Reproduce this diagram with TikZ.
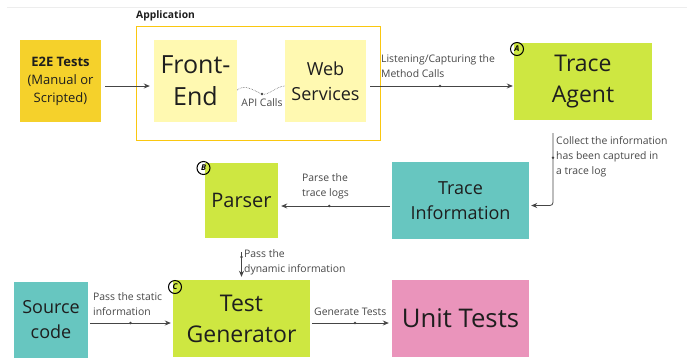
\documentclass[tikz,border=0pt]{standalone}
\usepackage{fontspec}
\setmainfont{Open Sans}
\usetikzlibrary{arrows.meta,calc}
\definecolor{cGold}{HTML}{F5D12B}
\definecolor{cPale}{HTML}{FFF9B1}
\definecolor{cLime}{HTML}{CEE741}
\definecolor{cTeal}{HTML}{67C6C0}
\definecolor{cPink}{HTML}{EA94BB}
\definecolor{cFrame}{HTML}{FAC710}
\definecolor{cLine}{HTML}{454545}
\definecolor{cLabel}{HTML}{484848}
\definecolor{cText}{HTML}{1E1E1E}
\begin{document}
\begin{tikzpicture}[x=1pt,y=-1pt,
  box/.style={draw=none, inner sep=0pt, align=center, text=cText},
  conn/.style={draw=cLine, line width=0.8pt, -{Stealth[length=6pt,width=5pt]}},
  dotnode/.style={circle, fill=cLine, inner sep=0pt, minimum size=2.8pt},
  lbl/.style={inner sep=0pt, align=left, text=cLabel, font=\fontsize{10.4}{15}\selectfont},
  circ/.style={circle, draw=black, line width=1pt, inner sep=0pt, minimum size=13pt, fill=none, text=black, font=\bfseries\itshape\fontsize{8}{8}\selectfont},
  big/.style={font=\fontsize{25}{32}\selectfont},
  mid/.style={font=\fontsize{18}{25}\selectfont},
  large/.style={font=\fontsize{23}{31}\selectfont}]
\useasboundingbox (0,0) rectangle (687,357);
\clip (0,0) rectangle (687,357);
\fill[white] (0,0) rectangle (687,357);
\draw[black!7, line width=0.6pt] (7,7) -- (687,7);

% application frame
\node[draw=cFrame, line width=1pt, minimum width=244pt, minimum height=114pt, inner sep=0pt] (app) at (258,83) {};
\node[anchor=west, inner sep=0pt, text=cText, font=\bfseries\fontsize{10.3}{12}\selectfont] (applbl) at (136,16) {Application};

% nodes
\node[box, fill=cGold, minimum width=81pt, minimum height=82pt, font=\fontsize{13}{18}\selectfont] (e2e) at (60.5,81) {\textbf{E2E Tests}\\(Manual or\\Scripted)};
\node[box, fill=cPale, minimum width=83pt, minimum height=82pt, big] (fe) at (195.5,81) {Front-\\End};
\node[box, fill=cPale, minimum width=81pt, minimum height=82pt, mid] (ws) at (325.5,81) {Web\\Services};
\node[box, fill=cLime, minimum width=138pt, minimum height=77pt, large] (ta) at (583,81.5) {Trace\\Agent};
\node[box, fill=cTeal, minimum width=137pt, minimum height=77pt, mid] (ti) at (460.5,200.5) {Trace\\Information};
\node[box, fill=cLime, minimum width=73pt, minimum height=75pt, font=\fontsize{20}{25}\selectfont] (parser) at (241.5,200.5) {Parser};
\node[box, fill=cTeal, minimum width=74pt, minimum height=76pt, mid] (src) at (51,320) {Source\\code};
\node[box, fill=cLime, minimum width=137pt, minimum height=77pt, large] (tg) at (241.5,318.5) {Test\\Generator};
\node[box, fill=cPink, minimum width=137pt, minimum height=77pt, font=\fontsize{25.7}{32}\selectfont] (ut) at (460.5,318.5) {Unit Tests};

% markers
\node[circ] (ca) at (517,49) {A};
\node[circ] (cb) at (203.5,168) {B};
\node[circ] (cc) at (175,287) {C};

% connectors
\draw[conn, shorten <=4pt, shorten >=4pt] ([yshift=-5pt]e2e.east) -- ([yshift=-5pt]fe.west);
\draw[conn, shorten <=4pt, shorten >=1pt] ([yshift=-5pt]ws.east) -- node[dotnode, pos=0.5] {} ([yshift=-4.5pt]ta.west);
\draw[conn, rounded corners=3pt, shorten >=2pt] ([xshift=-30pt,yshift=-13pt]ta.south) |- node[dotnode, pos=0.17] {} ([yshift=-5pt]ti.east);
\draw[conn, shorten <=2pt, shorten >=3pt] ([yshift=-5.5pt]ti.west) -- node[dotnode, pos=0.55] {} ([yshift=-5.5pt]parser.east);
\draw[conn, shorten <=14pt, shorten >=3pt] (parser.south) -- node[dotnode, pos=0.45] {} (tg.north);
\draw[conn, shorten <=2pt, shorten >=2pt] ([yshift=-3pt]src.east) -- node[dotnode, pos=0.5] {} ([yshift=-4.5pt]tg.west);
\draw[conn, shorten <=2pt, shorten >=3pt] ([yshift=-4.5pt]tg.east) -- node[dotnode, pos=0.55] {} ([yshift=-4.5pt]ut.west);

% API calls
\coordinate (apimid) at (262,94);
\draw[cLine!80, densely dotted, line width=0.6pt] ([yshift=-9pt]fe.east) .. controls +(8,-7) and +(-6,-2) .. (apimid) .. controls +(6,2) and +(-8,0) .. ([yshift=-5pt]ws.west);
\fill[cLine] (apimid) circle (1.3pt);
\node[lbl] (apilbl) at (262,103) {API Calls};

% labels
\node[lbl, anchor=west] (l1) at (381,66.5) {Listening/Capturing the\\Method Calls};
\node[lbl, anchor=west] (l2) at (556,157) {Collect the information\\has been captured in\\a trace log};
\node[lbl, anchor=west] (l3) at (302,186.5) {Parse the\\trace logs};
\node[lbl, anchor=west] (l4) at (244,262.5) {Pass the\\dynamic information};
\node[lbl, anchor=west] (l5) at (93,304.5) {Pass the static\\information};
\node[lbl, anchor=west] (l6) at (314,312) {Generate Tests};
\end{tikzpicture}
\end{document}
